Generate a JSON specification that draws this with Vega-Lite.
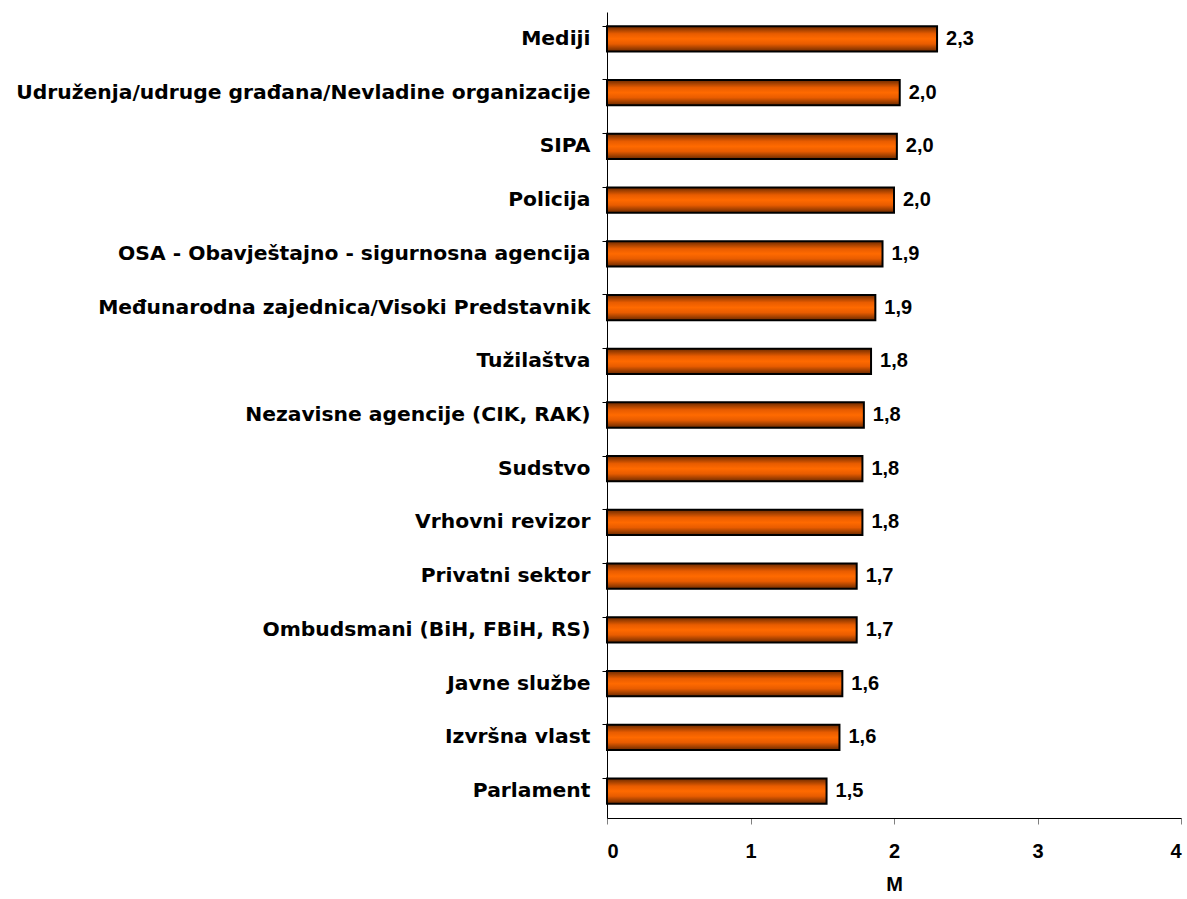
{
  "$schema": "https://vega.github.io/schema/vega-lite/v6.json",
  "width": 574,
  "height": 806,
  "padding": {"left": 607, "top": 12, "right": 6, "bottom": 81},
  "autosize": {"type": "none"},
  "config": {
    "view": {"stroke": null},
    "font": "Liberation Sans",
    "locale": {"number": {"decimal": ",", "thousands": ".", "grouping": [3], "currency": ["", " €"]}}
  },
  "data": {
    "values": [
      {"institucija": "Mediji", "M": 2.30},
      {"institucija": "Udruženja/udruge građana/Nevladine organizacije", "M": 2.04},
      {"institucija": "SIPA", "M": 2.02},
      {"institucija": "Policija", "M": 2.00},
      {"institucija": "OSA - Obavještajno - sigurnosna agencija", "M": 1.92},
      {"institucija": "Međunarodna zajednica/Visoki Predstavnik", "M": 1.87},
      {"institucija": "Tužilaštva", "M": 1.84},
      {"institucija": "Nezavisne agencije (CIK, RAK)", "M": 1.79},
      {"institucija": "Sudstvo", "M": 1.78},
      {"institucija": "Vrhovni revizor", "M": 1.78},
      {"institucija": "Privatni sektor", "M": 1.74},
      {"institucija": "Ombudsmani (BiH, FBiH, RS)", "M": 1.74},
      {"institucija": "Javne službe", "M": 1.64},
      {"institucija": "Izvršna vlast", "M": 1.62},
      {"institucija": "Parlament", "M": 1.53}
    ]
  },
  "encoding": {
    "y": {
      "field": "institucija",
      "type": "nominal",
      "sort": null,
      "title": null,
      "scale": {"paddingInner": 0.53, "paddingOuter": 0.265},
      "axis": {
        "bandPosition": 0,
        "domainColor": "#000000",
        "domainWidth": 1,
        "tickColor": "#000000",
        "tickSize": 5,
        "labelFont": "DejaVu Sans",
        "labelFontSize": 20.3,
        "labelFontWeight": "bold",
        "labelColor": "#000000",
        "labelPadding": 12,
        "labelLimit": 700
      }
    },
    "x": {
      "field": "M",
      "type": "quantitative",
      "title": "M",
      "scale": {"domain": [0, 4], "nice": false},
      "axis": {
        "values": [0, 1, 2, 3, 4],
        "grid": false,
        "format": "d",
        "domainColor": "#000000",
        "tickColor": "#808080",
        "tickSize": 6,
        "labelFontSize": 20,
        "labelFontWeight": "bold",
        "labelColor": "#000000",
        "labelPadding": 17,
        "titleFontSize": 20,
        "titleFontWeight": "bold",
        "titleColor": "#000000",
        "titlePadding": 13
      }
    }
  },
  "layer": [
    {
      "mark": {
        "type": "bar",
        "stroke": "#000000",
        "strokeWidth": 2,
        "color": {
          "gradient": "linear",
          "x1": 0, "y1": 0, "x2": 0, "y2": 1,
          "stops": [
            {"offset": 0, "color": "#6b2a00"},
            {"offset": 0.3, "color": "#e85c00"},
            {"offset": 0.5, "color": "#ff6a00"},
            {"offset": 0.7, "color": "#e85c00"},
            {"offset": 1, "color": "#6b2a00"}
          ]
        }
      }
    },
    {
      "mark": {"type": "text", "align": "left", "dx": 9, "fontSize": 20, "fontWeight": "bold", "color": "#000000"},
      "encoding": {"text": {"field": "M", "type": "quantitative", "format": ".1f"}}
    }
  ]
}
